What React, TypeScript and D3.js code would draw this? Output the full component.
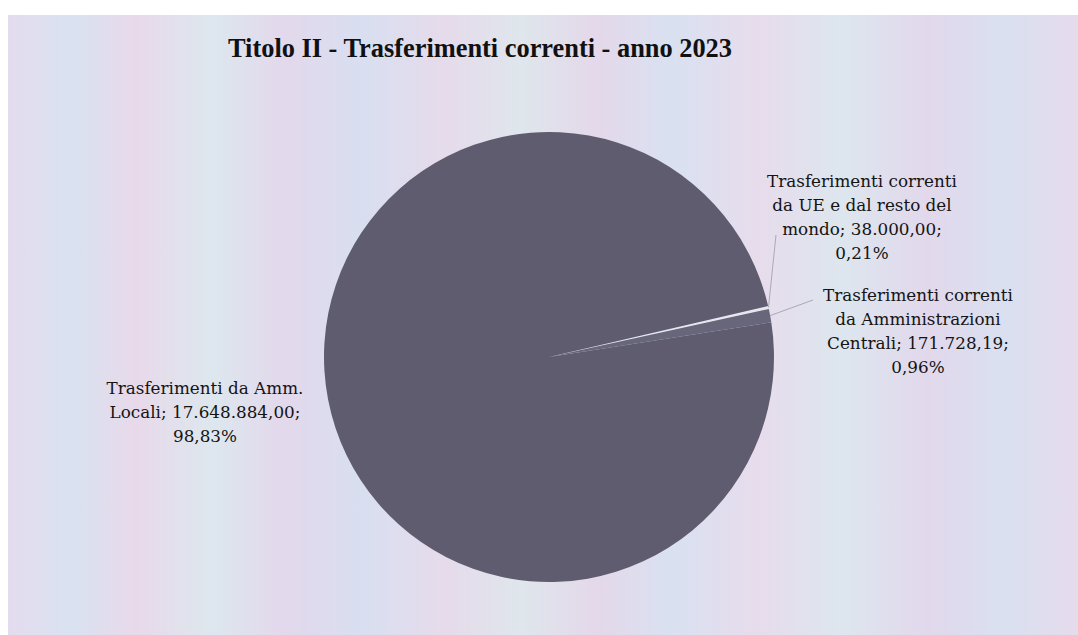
import React from "react";
import * as d3 from "d3";

// ---- data ----
const title = "Titolo II - Trasferimenti correnti - anno 2023";
const categories = [
  "Trasferimenti correnti da UE e dal resto del mondo",
  "Trasferimenti correnti da Amministrazioni Centrali",
  "Trasferimenti da Amm. Locali",
];
const values = [38000.0, 171728.19, 17648884.0];
const sliceColors = ["#e6e8ee", "#68667a", "#605c70"];

// ---- layout ----
const W = 1078;
const H = 635;
const cx = 549;
const cy = 357;
const R = 225;
const startDeg = 76.9;
// label block anchor (center x, first baseline y) relative to pie centre
const labelOffsets = [
  { dx: 313, dy: -170, lx: 227, ly: -122 },
  { dx: 369, dy: -56, lx: 264, ly: -57 },
  { dx: -344, dy: 37, lx: null, ly: null },
];
const maxChars = 22;
const lineH = 24;

const it = d3.formatLocale({
  decimal: ",",
  thousands: ".",
  grouping: [3],
  currency: ["€", ""],
});
const fmtVal = it.format(",.2f");
const fmtPct = it.format(".2%");

function wrap(text: string, n: number): string[] {
  const words = text.split(" ");
  const lines: string[] = [];
  let cur = "";
  for (const w of words) {
    const t = cur ? cur + " " + w : w;
    if (t.length > n && cur) {
      lines.push(cur);
      cur = w;
    } else cur = t;
  }
  if (cur) lines.push(cur);
  return lines;
}

export default function App() {
  const total = d3.sum(values);
  const data = categories.map((c, i) => ({ c, v: values[i], i }));
  const start = (startDeg * Math.PI) / 180;
  const pie = d3
    .pie<any>()
    .sort(null)
    .value((d) => d.v)
    .startAngle(start)
    .endAngle(start + 2 * Math.PI);
  const arcs = pie(data);
  const arc = d3.arc<any>().innerRadius(0).outerRadius(R);

  const stripes = [
    ["0%", "#e4dcee"],
    ["6%", "#d9e2f1"],
    ["12%", "#e8d9ea"],
    ["19%", "#dde7ee"],
    ["26%", "#e3d8ec"],
    ["33%", "#d8dff0"],
    ["41%", "#e6dbeb"],
    ["48%", "#dfe6ec"],
    ["55%", "#e4d8ea"],
    ["62%", "#d9e1f1"],
    ["70%", "#e7dcec"],
    ["78%", "#dde6ee"],
    ["86%", "#e2d8ec"],
    ["93%", "#d9e0f0"],
    ["100%", "#e5dbec"],
  ];

  return (
    <svg
      width={W}
      height={H}
      viewBox={`0 0 ${W} ${H}`}
      style={{ position: "absolute", left: 0, top: 0 }}
    >
      <defs>
        <linearGradient id="paper" x1="0" x2="1" y1="0" y2="0">
          {stripes.map(([o, c]) => (
            <stop key={o} offset={o} stopColor={c} />
          ))}
        </linearGradient>
      </defs>
      <rect x={0} y={0} width={W} height={H} fill="#ffffff" />
      <rect x={8} y={15} width={W - 8} height={H - 15} fill="url(#paper)" />

      <text
        x={480}
        y={57}
        textAnchor="middle"
        fontFamily="'Liberation Serif', serif"
        fontWeight="bold"
        fontSize={27}
        fill="#111111"
        textLength={504}
        lengthAdjust="spacingAndGlyphs"
      >
        {title}
      </text>

      <g transform={`translate(${cx},${cy})`}>
        {arcs.map((a) => (
          <path key={a.data.c} d={arc(a) as string} fill={sliceColors[a.data.i]} />
        ))}
      </g>

      {arcs.map((a) => {
        const off = labelOffsets[a.data.i];
        const mid = (a.startAngle + a.endAngle) / 2;
        const ex = cx + R * Math.sin(mid);
        const ey = cy - R * Math.cos(mid);
        const label = `${a.data.c}; ${fmtVal(a.data.v)}; ${fmtPct(a.data.v / total)}`;
        const lines = wrap(label, maxChars);
        return (
          <g key={"l" + a.data.c}>
            {off.lx !== null && (
              <line
                x1={ex}
                y1={ey}
                x2={cx + (off.lx as number)}
                y2={cy + (off.ly as number)}
                stroke="#a9a9b4"
                strokeWidth={1}
              />
            )}
            <text
              textAnchor="middle"
              fontFamily="'DejaVu Serif', serif"
              fontSize={16.8}
              fill="#141414"
            >
              {lines.map((l, k) => (
                <tspan key={k} x={cx + off.dx} y={cy + off.dy + k * lineH}>
                  {l}
                </tspan>
              ))}
            </text>
          </g>
        );
      })}
    </svg>
  );
}
